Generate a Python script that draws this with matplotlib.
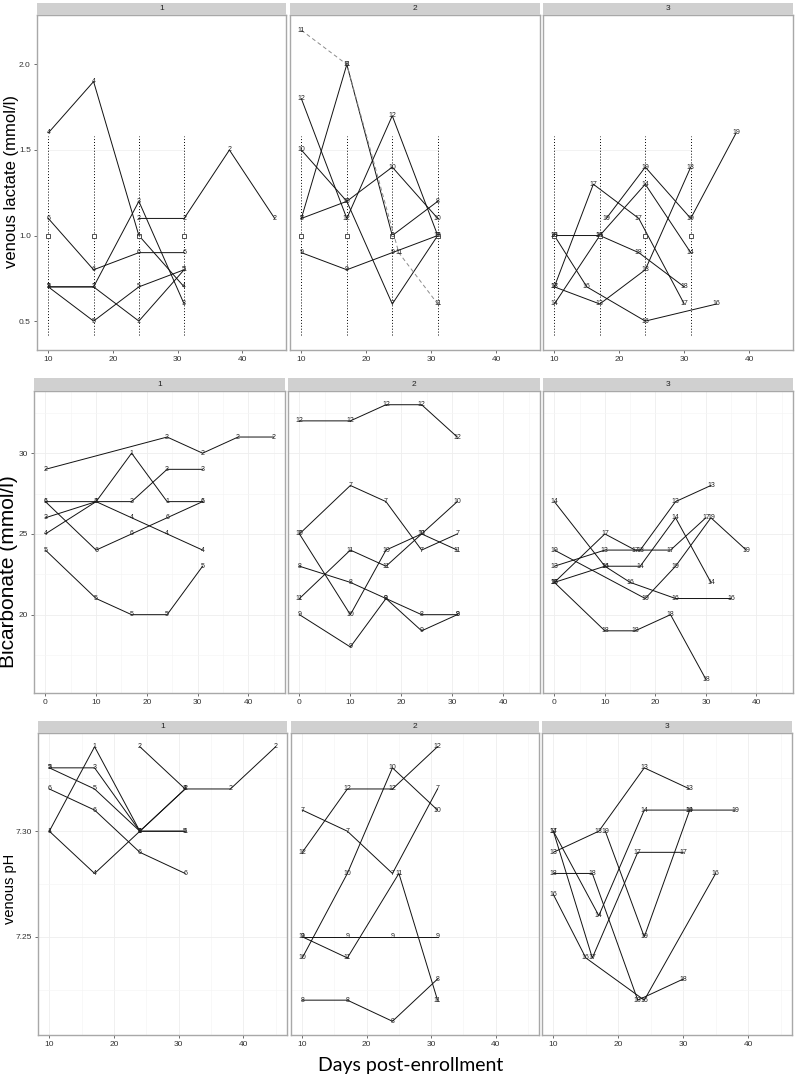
import matplotlib
matplotlib.use("Agg")
import matplotlib.pyplot as plt
from matplotlib.ticker import MultipleLocator

W, H = 797, 1078
plt.rcParams['font.family'] = ['Liberation Sans', 'DejaVu Sans']

# ---------------- data ----------------
groups = {1: [1, 2, 3, 4, 5, 6], 2: [7, 8, 9, 10, 11, 12], 3: [13, 14, 16, 17, 18, 19]}

# venous lactate (mmol/l)
lac_days = {
    1: [10, 17, 24, 31], 2: [24, 31, 38, 45], 3: [10, 17, 24, 31], 4: [10, 17, 24, 31],
    5: [10, 17, 24, 31], 6: [10, 17, 24, 31],
    7: [10, 17, 24, 31], 8: [10, 17, 24, 31], 9: [10, 17, 24, 31], 10: [10, 17, 24, 31],
    11: [10, 17, 25, 31], 12: [10, 17, 24, 31],
    13: [10, 17, 24, 31], 14: [10, 17, 24, 31], 16: [10, 15, 24, 35], 17: [10, 16, 23, 30],
    18: [10, 17, 23, 30], 19: [18, 24, 31, 38],
}
lac_vals = {
    1: [0.7, 0.7, 0.5, 0.8], 2: [1.1, 1.1, 1.5, 1.1], 3: [0.7, 0.7, 1.2, 0.6], 4: [1.6, 1.9, 1.0, 0.7],
    5: [0.7, 0.5, 0.7, 0.8], 6: [1.1, 0.8, 0.9, 0.9],
    7: [1.1, 1.2, 0.6, 1.0], 8: [1.1, 2.0, 1.0, 1.2], 9: [0.9, 0.8, 0.9, 1.0], 10: [1.5, 1.2, 1.4, 1.1],
    11: [2.2, 2.0, 0.9, 0.6], 12: [1.8, 1.1, 1.7, 1.0],
    13: [0.7, 0.6, 0.8, 1.4], 14: [0.6, 1.0, 1.3, 0.9], 16: [1.0, 0.7, 0.5, 0.6], 17: [0.7, 1.3, 1.1, 0.6],
    18: [1.0, 1.0, 0.9, 0.7], 19: [1.1, 1.4, 1.1, 1.6],
}
lac_dashed = [11]
ref_days = [10, 17, 24, 31]
ref_mid = 1.0
ref_low, ref_high = 0.42, 1.58

# bicarbonate (mmol/l)
bic_days = {
    1: [0, 10, 17, 24, 31], 2: [0, 24, 31, 38, 45], 3: [0, 10, 17, 24, 31], 4: [0, 10, 17, 24, 31],
    5: [0, 10, 17, 24, 31], 6: [0, 10, 17, 24, 31],
    7: [0, 10, 17, 24, 31], 8: [0, 10, 17, 24, 31], 9: [0, 10, 17, 24, 31], 10: [0, 10, 17, 24, 31],
    11: [0, 10, 17, 24, 31], 12: [0, 10, 17, 24, 31],
    13: [0, 10, 17, 24, 31], 14: [0, 10, 17, 24, 31], 16: [0, 10, 15, 24, 35], 17: [0, 10, 16, 23, 30],
    18: [0, 10, 16, 23, 30], 19: [0, 18, 24, 31, 38],
}
bic_vals = {
    1: [27, 27, 30, 27, 27], 2: [29, 31, 30, 31, 31], 3: [26, 27, 27, 29, 29], 4: [25, 27, 26, 25, 24],
    5: [24, 21, 20, 20, 23], 6: [27, 24, 25, 26, 27],
    7: [25, 28, 27, 24, 25], 8: [23, 22, 21, 20, 20], 9: [20, 18, 21, 19, 20], 10: [25, 20, 24, 25, 27],
    11: [21, 24, 23, 25, 24], 12: [32, 32, 33, 33, 31],
    13: [23, 24, 24, 27, 28], 14: [27, 23, 23, 26, 22], 16: [22, 23, 22, 21, 21], 17: [22, 25, 24, 24, 26],
    18: [22, 19, 19, 20, 16], 19: [24, 21, 23, 26, 24],
}

# venous pH
ph_days = {
    1: [10, 17, 24, 31], 2: [24, 31, 38, 45], 3: [10, 17, 24, 31], 4: [10, 17, 24, 31],
    5: [10, 17, 24, 31], 6: [10, 17, 24, 31],
    7: [10, 17, 24, 31], 8: [10, 17, 24, 31], 9: [10, 17, 24, 31], 10: [10, 17, 24, 31],
    11: [10, 17, 25, 31], 12: [10, 17, 24, 31],
    13: [10, 17, 24, 31], 14: [10, 17, 24, 31], 16: [10, 15, 24, 35], 17: [10, 16, 23, 30],
    18: [10, 16, 23, 30], 19: [18, 24, 31, 38],
}
ph_vals = {
    1: [7.30, 7.34, 7.30, 7.30], 2: [7.34, 7.32, 7.32, 7.34], 3: [7.33, 7.33, 7.30, 7.32],
    4: [7.30, 7.28, 7.30, 7.32], 5: [7.33, 7.32, 7.30, 7.30], 6: [7.32, 7.31, 7.29, 7.28],
    7: [7.31, 7.30, 7.28, 7.32], 8: [7.22, 7.22, 7.21, 7.23], 9: [7.25, 7.25, 7.25, 7.25],
    10: [7.24, 7.28, 7.33, 7.31], 11: [7.25, 7.24, 7.28, 7.22], 12: [7.29, 7.32, 7.32, 7.34],
    13: [7.29, 7.30, 7.33, 7.32], 14: [7.30, 7.26, 7.31, 7.31], 16: [7.27, 7.24, 7.22, 7.28],
    17: [7.30, 7.24, 7.29, 7.29], 18: [7.28, 7.28, 7.22, 7.23], 19: [7.30, 7.25, 7.31, 7.31],
}

# ---------------- layout ----------------
rows = [
    dict(days=lac_days, vals=lac_vals, top=15, bottom=350, strip=12,
         xs=[(37, 286), (290, 540), (543, 793)], xlim=(8.25, 46.75), ylim=(0.331, 2.289),
         xticks=[10, 20, 30, 40], yticks=[0.5, 1.0, 1.5, 2.0], yfmt='{:.1f}', grid=False,
         ylabel='venous lactate (mmol/l)', ylsize=12, ylx=12, yly=182),
    dict(days=bic_days, vals=bic_vals, top=391, bottom=693, strip=13,
         xs=[(34, 285), (288, 540), (543, 793)], xlim=(-2.25, 47.25), ylim=(15.15, 33.85),
         xticks=[0, 10, 20, 30, 40], yticks=[20, 25, 30], yfmt='{:d}', grid=True,
         ylabel='Bicarbonate (mmol/l)', ylsize=15, ylx=9, yly=572),
    dict(days=ph_days, vals=ph_vals, top=733, bottom=1035, strip=12,
         xs=[(38, 287), (291, 539), (542, 792)], xlim=(8.25, 46.75), ylim=(7.2035, 7.3465),
         xticks=[10, 20, 30, 40], yticks=[7.25, 7.30], yfmt='{:.2f}', grid=True,
         ylabel='venous pH', ylsize=10.5, ylx=10, yly=889),
]

fig = plt.figure(figsize=(W / 100, H / 100), dpi=100)
fig.patch.set_facecolor('white')


def rect(l, t, r, b):
    return [l / W, 1 - b / H, (r - l) / W, (b - t) / H]


border = '#A8A8A8'
for ri, row in enumerate(rows):
    for gi, (l, r) in enumerate(row['xs']):
        g = gi + 1
        ax = fig.add_axes(rect(l, row['top'], r, row['bottom']))
        ax.set_xlim(*row['xlim'])
        ax.set_ylim(*row['ylim'])
        for s in ax.spines.values():
            s.set_color(border)
            s.set_linewidth(1.0)
        ax.set_xticks(row['xticks'])
        ax.set_xticklabels([str(t) for t in row['xticks']])
        ax.set_yticks(row['yticks'])
        if gi == 0:
            ax.set_yticklabels([row['yfmt'].format(t) for t in row['yticks']])
        else:
            ax.tick_params(axis='y', left=False, labelleft=False)
        ax.tick_params(axis='both', length=2.5, width=0.6, color='#555555', labelsize=6,
                       labelcolor='#333333', pad=2)
        if row['grid']:
            ax.xaxis.set_minor_locator(MultipleLocator(5))
            ax.yaxis.set_minor_locator(MultipleLocator((row['yticks'][1] - row['yticks'][0]) / 2))
            ax.tick_params(which='minor', length=0)
            ax.grid(True, which='major', color='#EEEEEE', lw=0.6)
            ax.grid(True, which='minor', color='#F5F5F5', lw=0.5)
            ax.set_axisbelow(True)
        # reference range (lactate only)
        if ri == 0:
            ax.plot([10, 31], [1.5, 1.5], color='#F0F0F0', lw=0.6, zorder=1)
            for d in ref_days:
                ax.plot([d, d], [ref_low, ref_high], color='black', lw=0.7, ls=(0, (1, 2)), zorder=2)
                ax.plot([d], [ref_mid], marker='s', ms=3.5, mfc='white', mec='#333333', mew=0.6, zorder=4)
        for pid in groups[g]:
            dd = row['days'][pid]
            vv = row['vals'][pid]
            if ri == 0 and pid in lac_dashed:
                ax.plot(dd, vv, color='#8C8C8C', lw=0.7, ls=(0, (4, 3)), zorder=3)
            else:
                ax.plot(dd, vv, color='#111111', lw=0.7, zorder=3)
            for x, y in zip(dd, vv):
                ax.text(x, y, str(pid), ha='center', va='center', fontsize=5,
                        color='#222222', zorder=5)
        # strip
        sax = fig.add_axes(rect(l, row['top'] - row['strip'], r, row['top']))
        sax.set_facecolor('#D0D0D0')
        sax.set_xticks([]); sax.set_yticks([])
        for s in sax.spines.values():
            s.set_visible(False)
        sax.text(0.5, 0.5, str(g), ha='center', va='center', fontsize=6, color='#222222',
                 transform=sax.transAxes)
    fig.text(row['ylx'] / W, 1 - row['yly'] / H, row['ylabel'], rotation=90, ha='center',
             va='center', fontsize=row['ylsize'], color='black')

fig.text(411 / W, 1 - 1065 / H, 'Days post-enrollment', ha='center', va='center',
         fontsize=14, family=['Lato', 'DejaVu Sans'], color='black')

fig.savefig('out.png', dpi=100)
